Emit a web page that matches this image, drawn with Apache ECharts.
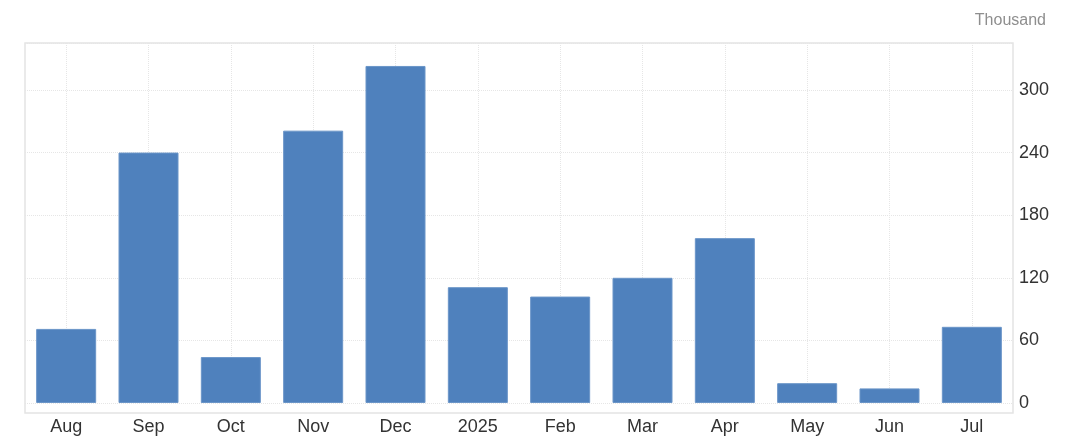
<!DOCTYPE html>
<html>
<head>
<meta charset="utf-8">
<script src="https://cdn.jsdelivr.net/npm/echarts@6/dist/echarts.min.js"></script>
<style>
html,body{margin:0;padding:0;background:#fff;}
#c{width:1076px;height:443px;}
</style>
</head>
<body>
<div id="c"></div>
<script>
const categories = ['Aug','Sep','Oct','Nov','Dec','2025','Feb','Mar','Apr','May','Jun','Jul'];
const values = [71, 240, 44, 261, 323, 111, 102, 120, 158, 19, 14, 73];
const unitLabel = 'Thousand';
const yTicks = {min: 0, max: 345, interval: 60};

const chart = echarts.init(document.getElementById('c'), null, {renderer: 'canvas'});
const fontFam = '"Liberation Sans", Arial, sans-serif';
chart.setOption({
  animation: false,
  backgroundColor: '#ffffff',
  title: {
    text: unitLabel,
    right: 25,
    top: 8,
    textStyle: {fontFamily: fontFam, fontSize: 16, fontWeight: 'normal', color: '#8e8e8e'}
  },
  grid: [
    {left: 25, right: 63, top: 43, bottom: 40},
    {left: 25, right: 63, top: 43, bottom: 30, show: true, borderColor: '#e4e4e4', borderWidth: 1.5, backgroundColor: 'transparent'}
  ],
  xAxis: [{
    type: 'category',
    data: categories,
    gridIndex: 0,
    offset: 10,
    axisLine: {show: false},
    axisTick: {show: false},
    axisLabel: {color: '#333333', fontSize: 18, fontFamily: fontFam, margin: 5},
    splitLine: {show: true, alignWithLabel: true, lineStyle: {color: '#e6e6e6', type: 'dotted', width: 1}}
  }, {
    type: 'category',
    data: categories,
    gridIndex: 1,
    show: false
  }],
  yAxis: [{
    type: 'value',
    gridIndex: 0,
    position: 'right',
    min: yTicks.min,
    max: yTicks.max,
    interval: yTicks.interval,
    axisLine: {show: false},
    axisTick: {show: false},
    axisLabel: {color: '#333333', fontSize: 18, fontFamily: fontFam, margin: 6, showMaxLabel: false,
      formatter: v => (v % yTicks.interval === 0 ? String(v) : '')},
    splitLine: {show: true, lineStyle: {color: '#e6e6e6', type: 'dotted', width: 1}}
  }, {
    type: 'value',
    gridIndex: 1,
    show: false,
    splitLine: {show: false}
  }],
  series: [{
    type: 'bar',
    xAxisIndex: 0,
    yAxisIndex: 0,
    data: values,
    barWidth: 60,
    itemStyle: {color: '#4f81bd', borderColor: '#6a95c8', borderWidth: 1}
  }]
});
</script>
</body>
</html>
